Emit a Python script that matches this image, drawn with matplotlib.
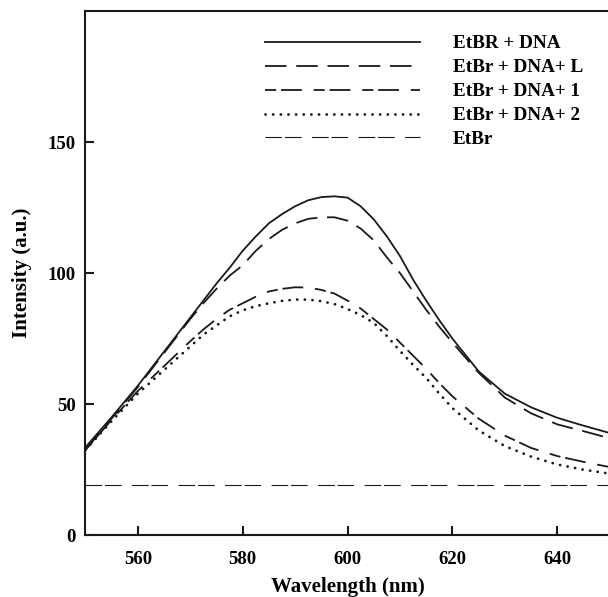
import matplotlib
matplotlib.use('Agg')
import matplotlib.pyplot as plt

# values
wl = [550, 555, 560, 565, 570, 572.5, 575, 577.5, 580, 582.5, 585, 587.5, 590, 592.5, 595, 597.5,
      600, 602.5, 605, 607.5, 610, 612.5, 615, 617.5, 620, 625, 630, 635, 640, 645, 650]
etbr_dna = [33.5, 45, 57, 70, 83, 89.5, 96, 102, 108.5, 114, 119, 122.5, 125.5, 127.8, 129, 129.3,
            128.8, 125.5, 120.5, 114, 106.5, 97.5, 89.5, 82, 75, 62.5, 54, 48.8, 44.8, 41.8, 39]
etbr_dna_L = [32.5, 44.5, 56.5, 69.5, 82.5, 88.5, 94, 99, 103, 108.5, 113, 116.5, 119, 120.7, 121.3, 121.3,
              120, 117, 112.5, 106, 100, 93, 86, 79.5, 73.5, 62, 52.5, 46.5, 42.3, 39.7, 37]
etbr_dna_1 = [32.5, 44, 55, 64.5, 74, 78.5, 82.5, 86, 88.5, 91, 93, 94, 94.6, 94.5, 93.6, 92.2,
              89.5, 86.5, 82.5, 78.5, 73.5, 68.5, 63.5, 58, 53, 44.5, 38, 33.3, 30.2, 28, 26]
etbr_dna_2 = [32.5, 43.5, 54, 63, 72, 76.5, 80, 83.5, 85.8, 87.4, 88.5, 89.4, 89.9, 89.9, 89.3, 88.2,
              86.3, 84, 81, 76, 70.3, 65, 60, 54, 48.5, 40, 34, 30, 27, 25, 23.5]
etbr_only = 19.0

labels = ['EtBR + DNA', 'EtBr + DNA+ L', 'EtBr + DNA+ 1', 'EtBr + DNA+ 2', 'EtBr']
xticks = [560, 580, 600, 620, 640]
yticks = [0, 50, 100, 150]

plt.rcParams['font.family'] = ['Liberation Serif', 'DejaVu Serif']
plt.rcParams['font.weight'] = 'bold'
plt.rcParams['lines.scale_dashes'] = False

fig = plt.figure(figsize=(6.08, 5.97), dpi=100)
ax = fig.add_axes([0.1403, 0.1034, 0.8627, 0.8782])

k = '#1a1a1a'
ax.plot(wl, etbr_dna, color=k, lw=1.3, label=labels[0])
ax.plot(wl, etbr_dna_L, color=k, lw=1.3, linestyle=(0, (15.5, 7.0)), label=labels[1])
ax.plot(wl, etbr_dna_1, color=k, lw=1.3, linestyle=(0, (8.0, 3.5, 15.0, 8.5)), label=labels[2])
ax.plot(wl, etbr_dna_2, color=k, lw=2.0, linestyle=(0, (0.1, 5.4)),
        dash_capstyle='round', label=labels[3])
ax.plot([wl[0], wl[-1]], [etbr_only, etbr_only], color=k, lw=0.8,
        linestyle=(0, (12.0, 2.0, 12.0, 7.5)), label=labels[4])

ax.set_xlim(550, 650)
ax.set_ylim(0, 200)
ax.set_xticks(xticks)
ax.set_yticks(yticks)
ax.spines['right'].set_visible(False)
for s in ['left', 'bottom', 'top']:
    ax.spines[s].set_linewidth(1.5)
    ax.spines[s].set_color(k)
ax.tick_params(direction='in', length=6.5, width=1.5, labelsize=13.5, color=k)
ax.tick_params(axis='x', pad=11)
ax.tick_params(axis='y', pad=7)

ax.set_xlabel('Wavelength (nm)', fontsize=15, fontweight='bold', labelpad=7)
ax.set_ylabel('Intensity (a.u.)', fontsize=15, fontweight='bold', labelpad=11)

leg = ax.legend(loc='upper left', bbox_to_anchor=(265 / 608, 1 - 35 / 597),
                bbox_transform=fig.transFigure, frameon=False, fontsize=13.8,
                handlelength=8.1, handletextpad=1.7, labelspacing=0.34,
                borderpad=0, borderaxespad=0)
for t in leg.get_texts():
    t.set_fontweight('bold')

fig.savefig('out.png', dpi=100)
